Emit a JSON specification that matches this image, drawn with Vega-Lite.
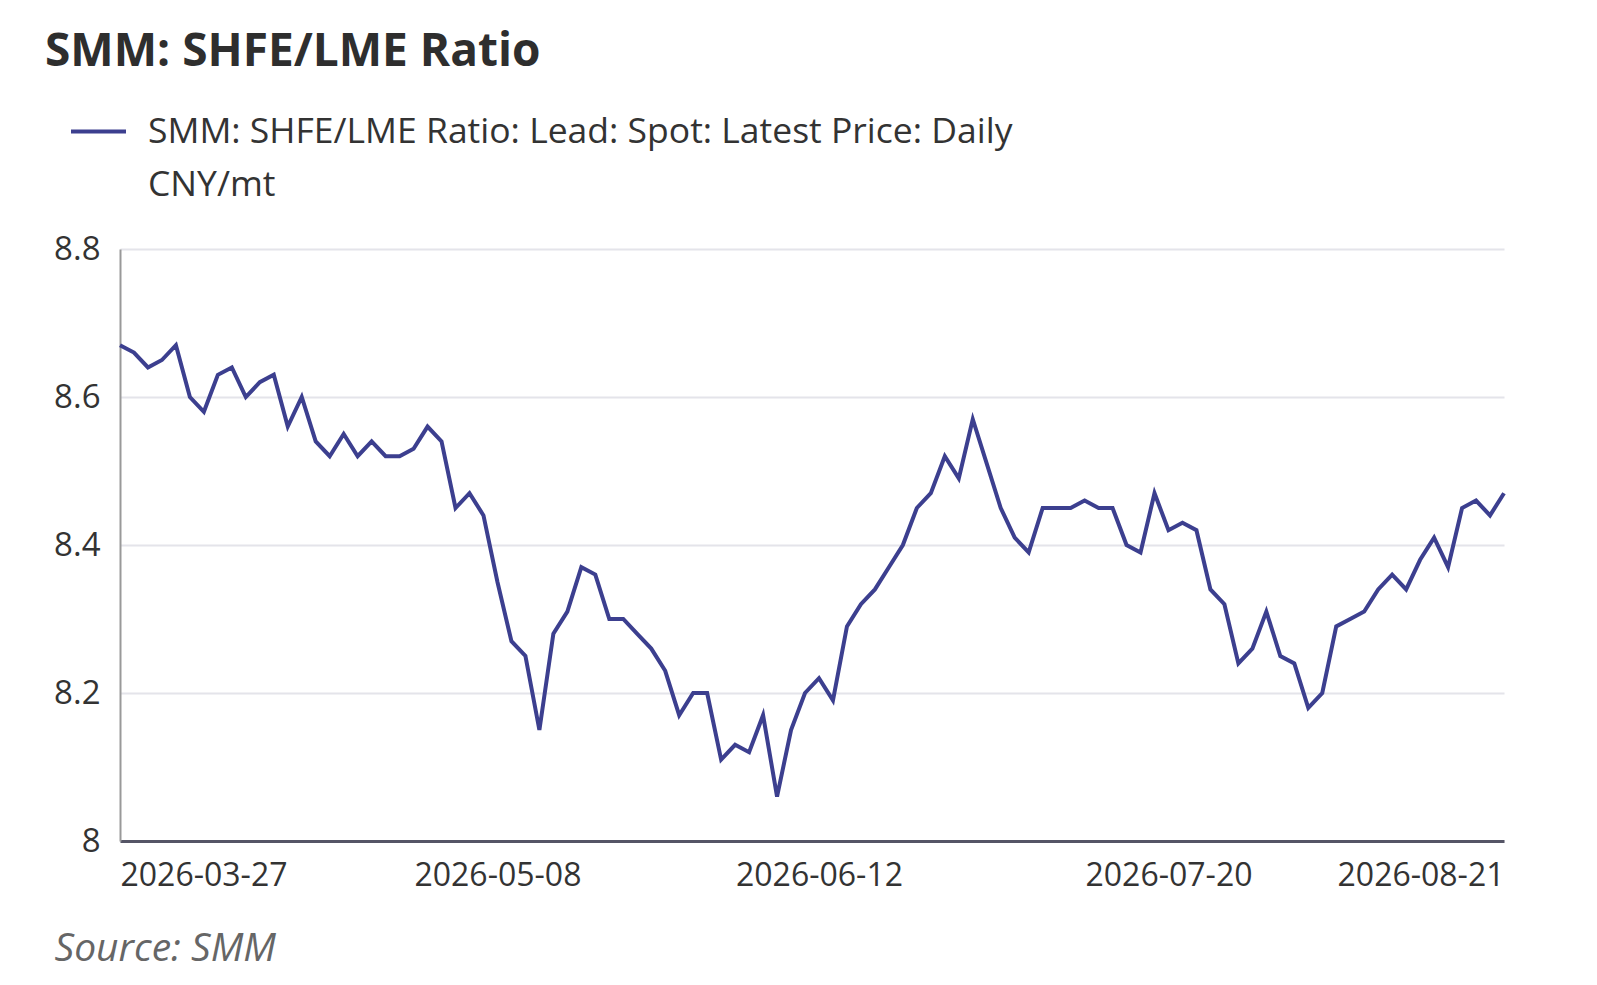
{
  "$schema": "https://vega.github.io/schema/vega-lite/v6.json",
  "width": 1384,
  "height": 592,
  "autosize": "none",
  "padding": {"left": 120, "top": 249, "right": 93, "bottom": 144},
  "background": "#ffffff",
  "title": {
    "text": "SMM: SHFE/LME Ratio",
    "anchor": "start",
    "frame": "group",
    "baseline": "alphabetic",
    "dx": -75,
    "dy": 43,
    "offset": 33,
    "fontSize": 46,
    "fontWeight": "bold",
    "font": "Open Sans",
    "color": "#2e2e2e"
  },
  "data": {
    "values": [
      {"date": "2026-03-27", "value": 8.67},
      {"date": "2026-03-30", "value": 8.66},
      {"date": "2026-03-31", "value": 8.64},
      {"date": "2026-04-01", "value": 8.65},
      {"date": "2026-04-02", "value": 8.67},
      {"date": "2026-04-03", "value": 8.60},
      {"date": "2026-04-06", "value": 8.58},
      {"date": "2026-04-07", "value": 8.63},
      {"date": "2026-04-08", "value": 8.64},
      {"date": "2026-04-09", "value": 8.60},
      {"date": "2026-04-10", "value": 8.62},
      {"date": "2026-04-13", "value": 8.63},
      {"date": "2026-04-14", "value": 8.56},
      {"date": "2026-04-15", "value": 8.60},
      {"date": "2026-04-16", "value": 8.54},
      {"date": "2026-04-17", "value": 8.52},
      {"date": "2026-04-20", "value": 8.55},
      {"date": "2026-04-21", "value": 8.52},
      {"date": "2026-04-22", "value": 8.54},
      {"date": "2026-04-23", "value": 8.52},
      {"date": "2026-04-24", "value": 8.52},
      {"date": "2026-04-27", "value": 8.53},
      {"date": "2026-04-28", "value": 8.56},
      {"date": "2026-04-29", "value": 8.54},
      {"date": "2026-04-30", "value": 8.45},
      {"date": "2026-05-06", "value": 8.47},
      {"date": "2026-05-07", "value": 8.44},
      {"date": "2026-05-08", "value": 8.35},
      {"date": "2026-05-11", "value": 8.27},
      {"date": "2026-05-12", "value": 8.25},
      {"date": "2026-05-13", "value": 8.15},
      {"date": "2026-05-14", "value": 8.28},
      {"date": "2026-05-15", "value": 8.31},
      {"date": "2026-05-18", "value": 8.37},
      {"date": "2026-05-19", "value": 8.36},
      {"date": "2026-05-20", "value": 8.30},
      {"date": "2026-05-21", "value": 8.30},
      {"date": "2026-05-25", "value": 8.28},
      {"date": "2026-05-26", "value": 8.26},
      {"date": "2026-05-27", "value": 8.23},
      {"date": "2026-05-28", "value": 8.17},
      {"date": "2026-05-29", "value": 8.20},
      {"date": "2026-06-02", "value": 8.20},
      {"date": "2026-06-03", "value": 8.11},
      {"date": "2026-06-04", "value": 8.13},
      {"date": "2026-06-05", "value": 8.12},
      {"date": "2026-06-08", "value": 8.17},
      {"date": "2026-06-09", "value": 8.06},
      {"date": "2026-06-10", "value": 8.15},
      {"date": "2026-06-11", "value": 8.20},
      {"date": "2026-06-12", "value": 8.22},
      {"date": "2026-06-15", "value": 8.19},
      {"date": "2026-06-16", "value": 8.29},
      {"date": "2026-06-17", "value": 8.32},
      {"date": "2026-06-18", "value": 8.34},
      {"date": "2026-06-22", "value": 8.37},
      {"date": "2026-06-23", "value": 8.40},
      {"date": "2026-06-24", "value": 8.45},
      {"date": "2026-06-25", "value": 8.47},
      {"date": "2026-06-26", "value": 8.52},
      {"date": "2026-06-29", "value": 8.49},
      {"date": "2026-06-30", "value": 8.57},
      {"date": "2026-07-01", "value": 8.51},
      {"date": "2026-07-02", "value": 8.45},
      {"date": "2026-07-03", "value": 8.41},
      {"date": "2026-07-06", "value": 8.39},
      {"date": "2026-07-07", "value": 8.45},
      {"date": "2026-07-08", "value": 8.45},
      {"date": "2026-07-09", "value": 8.45},
      {"date": "2026-07-10", "value": 8.46},
      {"date": "2026-07-13", "value": 8.45},
      {"date": "2026-07-14", "value": 8.45},
      {"date": "2026-07-15", "value": 8.40},
      {"date": "2026-07-16", "value": 8.39},
      {"date": "2026-07-17", "value": 8.47},
      {"date": "2026-07-20", "value": 8.42},
      {"date": "2026-07-21", "value": 8.43},
      {"date": "2026-07-22", "value": 8.42},
      {"date": "2026-07-23", "value": 8.34},
      {"date": "2026-07-24", "value": 8.32},
      {"date": "2026-07-27", "value": 8.24},
      {"date": "2026-07-28", "value": 8.26},
      {"date": "2026-07-29", "value": 8.31},
      {"date": "2026-07-30", "value": 8.25},
      {"date": "2026-07-31", "value": 8.24},
      {"date": "2026-08-03", "value": 8.18},
      {"date": "2026-08-04", "value": 8.20},
      {"date": "2026-08-05", "value": 8.29},
      {"date": "2026-08-06", "value": 8.30},
      {"date": "2026-08-07", "value": 8.31},
      {"date": "2026-08-10", "value": 8.34},
      {"date": "2026-08-11", "value": 8.36},
      {"date": "2026-08-12", "value": 8.34},
      {"date": "2026-08-13", "value": 8.38},
      {"date": "2026-08-14", "value": 8.41},
      {"date": "2026-08-17", "value": 8.37},
      {"date": "2026-08-18", "value": 8.45},
      {"date": "2026-08-19", "value": 8.46},
      {"date": "2026-08-20", "value": 8.44},
      {"date": "2026-08-21", "value": 8.47}
    ]
  },
  "mark": {"type": "line", "strokeWidth": 4, "strokeJoin": "miter"},
  "encoding": {
    "x": {
      "field": "date",
      "type": "ordinal",
      "scale": {"type": "point", "padding": 0},
      "axis": {
        "values": ["2026-03-27", "2026-05-08", "2026-06-12", "2026-07-20", "2026-08-21"],
        "labelAngle": 0,
        "labelFlush": true,
        "labelFontSize": 32,
        "labelColor": "#333333",
        "labelPadding": 19,
        "ticks": false,
        "grid": false,
        "domainColor": "#555566",
        "domainWidth": 3,
        "title": "Source: SMM",
        "titleFontStyle": "italic",
        "titleFontWeight": "normal",
        "titleFontSize": 39,
        "titleColor": "#666666",
        "titleAnchor": "start",
        "titleAlign": "left",
        "titleBaseline": "middle",
        "titleX": -66,
        "titleY": 107
      }
    },
    "y": {
      "field": "value",
      "type": "quantitative",
      "scale": {"domain": [8, 8.8], "zero": false},
      "axis": {
        "values": [8, 8.2, 8.4, 8.6, 8.8],
        "format": "~g",
        "title": null,
        "ticks": false,
        "labelFontSize": 33,
        "labelColor": "#333333",
        "labelPadding": 20,
        "domainColor": "#999999",
        "domainWidth": 2,
        "gridColor": "#e4e4ea",
        "gridWidth": 2
      }
    },
    "color": {
      "datum": "SMM: SHFE/LME Ratio: Lead: Spot: Latest Price: Daily",
      "scale": {"range": ["#3c3f8f"]},
      "legend": {
        "orient": "none",
        "legendX": -51,
        "legendY": -147,
        "title": null,
        "padding": 0,
        "symbolType": "stroke",
        "symbolSize": 3025,
        "symbolStrokeWidth": 4,
        "labelFontSize": 35.5,
        "labelColor": "#333333",
        "labelLimit": 0,
        "labelOffset": 20,
        "labelExpr": "[datum.label, 'CNY/mt']",
        "encode": {"labels": {"update": {"lineHeight": {"value": 53}}}}
      }
    }
  },
  "config": {
    "font": "Open Sans",
    "view": {"stroke": null}
  }
}
